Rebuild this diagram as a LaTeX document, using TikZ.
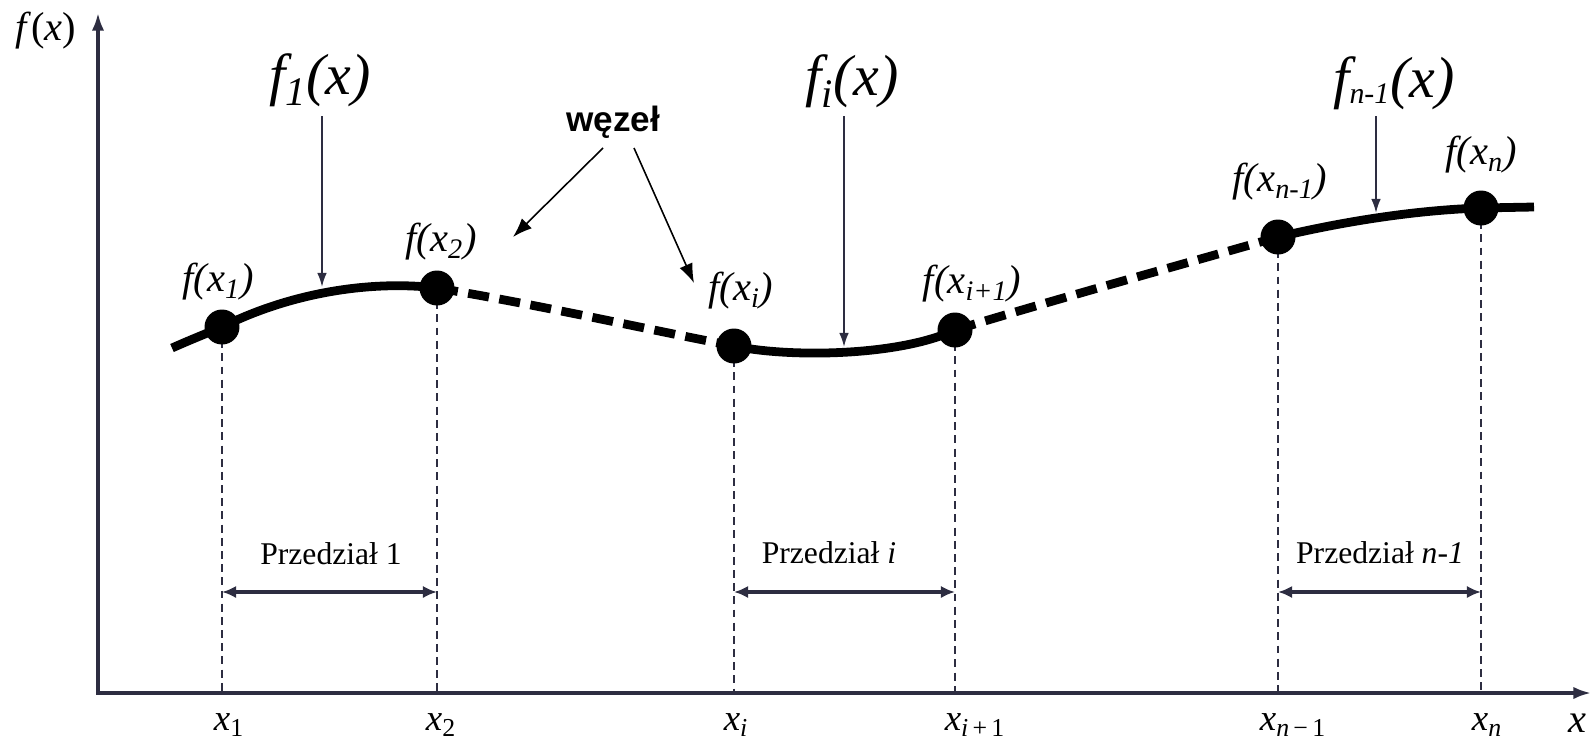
\documentclass[tikz,border=0pt]{standalone}
\usepackage{fontspec}
\setmainfont{Liberation Serif}
\newfontfamily\sansfam{Liberation Sans}
\usetikzlibrary{arrows.meta}
\definecolor{axc}{RGB}{45,45,65}
\begin{document}
\begin{tikzpicture}[x=0.02cm,y=-0.02cm,
  curve/.style={line width=5pt},
  dcurve/.style={line width=5pt,dash pattern=on 12pt off 6pt},
  dot/.style={circle,fill=black,inner sep=0pt,minimum size=0.7cm},
  guide/.style={axc,line width=1.1pt,dash pattern=on 4.5pt off 3pt},
  axisline/.style={axc,line width=1.8pt,{Latex[length=10pt,width=7pt]}-{Latex[length=10pt,width=7pt]}},
  ptr/.style={axc,line width=1.1pt,-{Latex[length=8pt,width=5.5pt]}},
  wz/.style={black,line width=0.9pt,-{Latex[length=11pt,width=8pt]}},
  span/.style={axc,line width=2.3pt,{Latex[length=8pt,width=7pt]}-{Latex[length=8pt,width=7pt]}},
  big/.style={inner sep=0pt,font=\fontsize{33}{36}\selectfont\itshape},
  val/.style={inner sep=0pt,font=\fontsize{23}{26}\selectfont\itshape},
  xl/.style={inner sep=0pt,font=\fontsize{21}{24}\selectfont},
  pl/.style={inner sep=0pt,font=\fontsize{18}{20}\selectfont},
  wl/.style={inner sep=0pt,font=\fontsize{20}{22}\selectfont\sansfam\bfseries}]
\useasboundingbox (0,0) rectangle (1596,744);

% axes
\coordinate (O) at (98,693);
\coordinate (Y) at (98,13);
\coordinate (X) at (1591,693);
\draw[axisline] (Y) -- (O) -- (X);
\node[val] (fx) at (46,31) {f\/\upshape(\itshape x\upshape)};
\node[inner sep=0pt,font=\fontsize{23}{26}\selectfont\itshape] (xlab) at (1577,723) {x};

% points on the curve
\coordinate (s) at (172,348);
\coordinate (p1) at (222,327);
\coordinate (p2) at (437,288);
\coordinate (pi) at (734,346);
\coordinate (pj) at (955,330);
\coordinate (pm) at (1278,237);
\coordinate (pn) at (1481,208);
\coordinate (e) at (1534,207);

% guides
\foreach \p in {p1,p2,pi,pj,pm,pn} \draw[guide] (\p) -- (\p |- O);

% curve
\draw[curve] (s) .. controls (190,340) and (205,334) .. (p1)
  .. controls (290,293) and (370,280) .. (p2);
\draw[dcurve] (p2) .. controls (540,305) and (650,330) .. (pi);
\draw[curve] (pi) .. controls (790,358) and (900,356) .. (pj);
\draw[dcurve] (pj) .. controls (1060,298) and (1180,265) .. (pm);
\draw[curve] (pm) .. controls (1350,220) and (1420,210) .. (pn) -- (e);

\foreach \p in {p1,p2,pi,pj,pm,pn} \node[dot] (d\p) at (\p) {};

% value labels
\node[val] (l1) at (218,282) {f(x\textsubscript{1})};
\node[val] (l2) at (441,242) {f(x\textsubscript{2})};
\node[val] (li) at (741,291) {f(x\textsubscript{i})};
\node[val] (lj) at (972,284) {f(x\textsubscript{i+1})};
\node[val] (lm) at (1280,182) {f(x\textsubscript{n-1})};
\node[val] (ln) at (1481,155) {f(x\textsubscript{n})};

% piece labels and pointers
\node[big] (f1) at (320,80) {f\textsubscript{1}(x)};
\node[big] (fi) at (852,81) {f\textsubscript{i}(x)};
\node[big] (fm) at (1394,83) {f\textsubscript{\fontsize{17}{18}\selectfont n-1}(x)};
\coordinate (a1s) at (322,116); \coordinate (a1e) at (322,287);
\coordinate (ais) at (844,116); \coordinate (aie) at (844,347);
\coordinate (ams) at (1376,116); \coordinate (ame) at (1376,213);
\draw[ptr] (a1s) -- (a1e);
\draw[ptr] (ais) -- (aie);
\draw[ptr] (ams) -- (ame);

% wezel
\node[wl] (w) at (613,122) {węzeł};
\coordinate (w1s) at (603,148); \coordinate (w1e) at (513,237);
\coordinate (w2s) at (634,148); \coordinate (w2e) at (694,283);
\draw[wz] (w1s) -- (w1e);
\draw[wz] (w2s) -- (w2e);

% intervals
\coordinate (ys) at (0,592);
\draw[span] (p1 |- ys) -- (p2 |- ys);
\draw[span] (pi |- ys) -- (pj |- ys);
\draw[span] (pm |- ys) -- (pn |- ys);
\node[pl] (P1) at (331,554) {Przedział 1};
\node[pl] (Pi) at (829,553) {Przedział \textit{i}};
\node[pl] (Pm) at (1380,553) {Przedział \textit{n-1}};

% x-axis labels
\node[xl] (x1) at (229,725) {\textit{x}\textsubscript{1}};
\node[xl] (x2) at (441,725) {\textit{x}\textsubscript{2}};
\node[xl] (xi) at (736,725) {\textit{x}\textsubscript{\textit{i}}};
\node[xl] (xj) at (975,725) {\textit{x}\textsubscript{\textit{i}\,+\,1}};
\node[xl] (xm) at (1293,725) {\textit{x}\textsubscript{\textit{n}\,−\,1}};
\node[xl] (xn) at (1487,725) {\textit{x}\textsubscript{\textit{n}}};
\end{tikzpicture}
\end{document}
